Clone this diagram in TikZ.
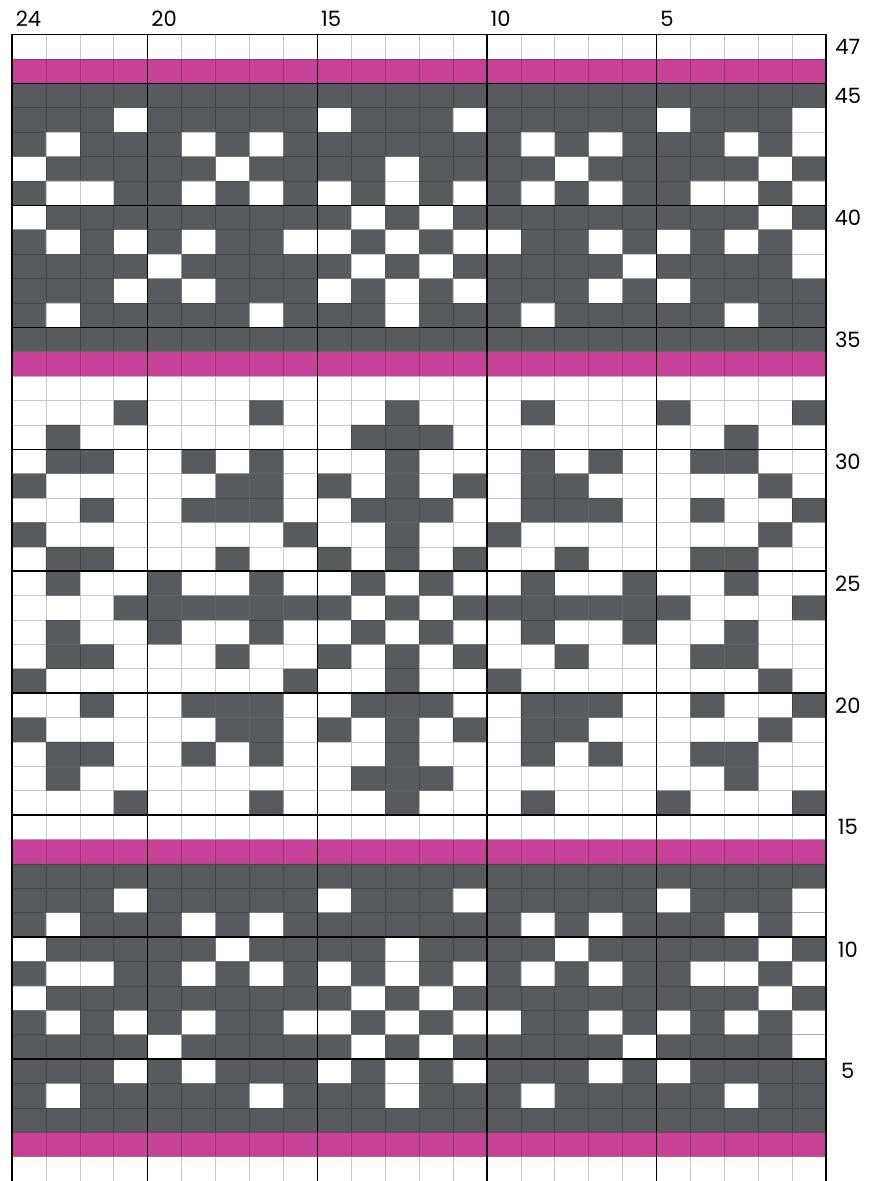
\documentclass[tikz,border=0pt]{standalone}
\usepackage{fontspec}
\setmainfont{Poppins}
\usepackage{tikz}
\definecolor{GrisPunto}{RGB}{89,90,94}
\definecolor{MagentaFranja}{RGB}{200,65,152}

\begin{document}
\begin{tikzpicture}[x=6.784mm,y=4.878mm,
    gridline/.style={line width=0.12mm,black,opacity=0.22},
    fiveline/.style={line width=0.3mm,black},
    rowlabel/.style={font=\fontsize{12}{14}\selectfont,inner sep=0pt}]
  \useasboundingbox (-0.354,0) rectangle (25.236,48.42);
  \fill[MagentaFranja] (0,1) rectangle (24,2) (0,13) rectangle (24,14)
    (0,33) rectangle (24,34) (0,45) rectangle (24,46);
  \fill[GrisPunto] (0,2) rectangle (24,13) (0,34) rectangle (24,45);
  \foreach \r/\cells in {4/{2,8,12,16,22},5/{4,6,10,12,14,18,20},6/{5,11,13,19,24},
      7/{2,4,6,9,10,12,14,15,18,20,22,24},8/{1,11,13,23},
      9/{2,3,6,8,10,12,14,16,18,21,22,24},10/{1,7,12,17,23},
      11/{2,6,8,16,18,22,24},12/{4,10,14,20,24}}
    \foreach \c in \cells
      \fill[white] (\c-1,\r-1) rectangle (\c,\r) (\c-1,\r+31) rectangle (\c,\r+32);
  \foreach \r/\cells in {24/{4,5,6,7,8,9,10,12,14,15,16,17,18,19,20,24},
      25/{2,5,8,11,13,16,19,22},26/{2,3,7,10,12,14,17,21,22},27/{1,9,12,15,23},
      28/{3,6,7,8,11,12,13,16,17,18,21,24},29/{1,7,8,10,12,14,16,17,23},
      30/{2,3,6,8,12,16,18,21,22},31/{2,11,12,13,22},32/{4,8,12,16,20,24}}
    \foreach \c in \cells
      \fill[GrisPunto] (\c-1,\r-1) rectangle (\c,\r) (\c-1,47-\r) rectangle (\c,48-\r);
  \draw[gridline] \foreach \x in {1,...,23} {(\x,0) -- (\x,47)}
    \foreach \y in {1,...,46} {(0,\y) -- (24,\y)};
  \foreach \x in {4,9,14,19} \draw[fiveline] (\x,0) -- (\x,47);
  \foreach \y in {5,10,...,45} \draw[fiveline] (0,\y) -- (24,\y);
  \draw[fiveline] (0,0) -- (0,47) -- (24,47) -- (24,0);
  \foreach \c in {24,20,15,10,5}
    \node[rowlabel,anchor=base west] (st\c) at (24-\c+0.1,47.33) {\c};
  \foreach \r in {47,45,40,...,5}
    \node[rowlabel] (row\r) at (24.64,\r-0.5) {\r};
\end{tikzpicture}
\end{document}
